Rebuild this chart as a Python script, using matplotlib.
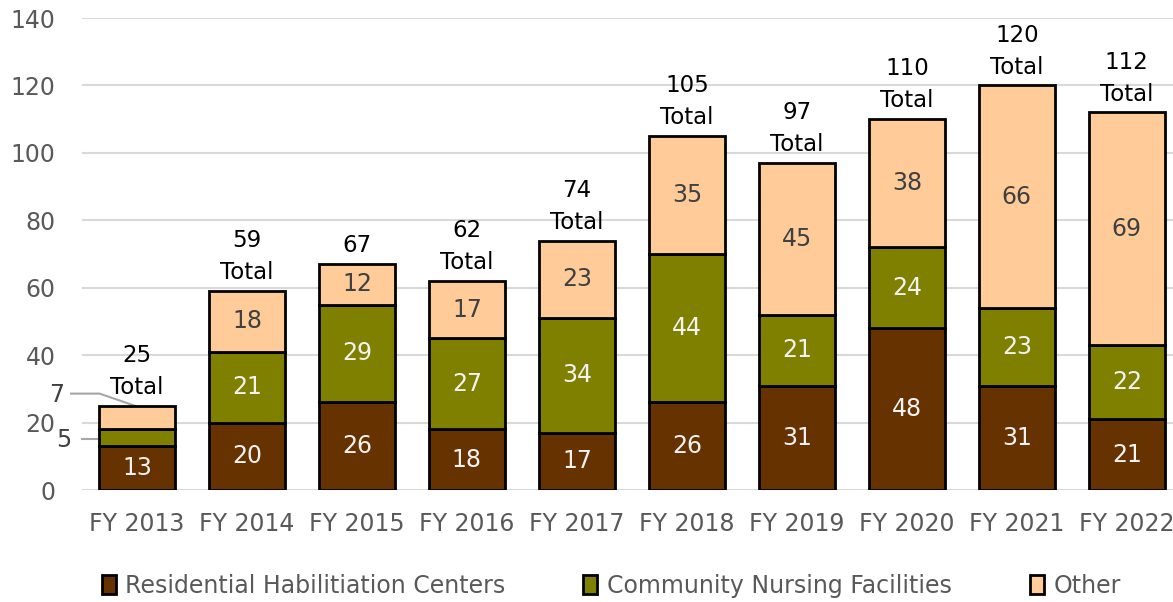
import numpy as np
import matplotlib.pyplot as plt

years = ['FY 2013', 'FY 2014', 'FY 2015', 'FY 2016', 'FY 2017',
         'FY 2018', 'FY 2019', 'FY 2020', 'FY 2021', 'FY 2022']
rhc = [13, 20, 26, 18, 17, 26, 31, 48, 31, 21]
cnf = [5, 21, 29, 27, 34, 44, 21, 24, 23, 22]
other = [7, 18, 12, 17, 23, 35, 45, 38, 66, 69]
totals = [25, 59, 67, 62, 74, 105, 97, 110, 120, 112]
total_text = ['25\nTotal', '59\nTotal', '67', '62\nTotal', '74\nTotal',
              '105\nTotal', '97\nTotal', '110\nTotal', '120\nTotal', '112\nTotal']
yticks = [0, 20, 40, 60, 80, 100, 120, 140]

plt.rcParams['font.family'] = ['DejaVu Sans']

fig = plt.figure(figsize=(11.73, 6.02), dpi=100)
ax = fig.add_axes([0.0699, 0.186, 0.9301, 0.784])

x = np.arange(len(years))
w = 0.69
rhc = np.array(rhc)
cnf = np.array(cnf)
other = np.array(other)

ax.bar(x, rhc, w, color='#663300', edgecolor='black', lw=2, label='Residential Habilitiation Centers', zorder=3)
ax.bar(x, cnf, w, bottom=rhc, color='#808000', edgecolor='black', lw=2, label='Community Nursing Facilities', zorder=3)
ax.bar(x, other, w, bottom=rhc + cnf, color='#ffcc99', edgecolor='black', lw=2, label='Other', zorder=3)

fs = 17
# segment labels
for i in range(len(years)):
    ax.text(x[i], rhc[i] / 2, str(rhc[i]), ha='center', va='center', color='#f2f2f2', fontsize=fs, zorder=4)
    if i > 0:
        ax.text(x[i], rhc[i] + cnf[i] / 2, str(cnf[i]), ha='center', va='center', color='#f2f2f2', fontsize=fs, zorder=4)
        ax.text(x[i], rhc[i] + cnf[i] + other[i] / 2, str(other[i]), ha='center', va='center', color='#404040', fontsize=fs, zorder=4)
    ax.text(x[i], totals[i] + 2.0, total_text[i], ha='center', va='bottom', color='black', fontsize=fs - 0.5, linespacing=1.5, zorder=4)

# FY 2013 small segments labelled outside with leader lines
ax.text(-0.73, 28.2, str(other[0]), ha='center', va='center', color='#404040', fontsize=fs, clip_on=False)
ax.plot([-0.6, -0.34, -0.02], [28.6, 28.6, 25], color='#a6a6a6', lw=1.5, clip_on=False, zorder=2)
ax.text(-0.67, 14.8, str(cnf[0]), ha='center', va='center', color='#404040', fontsize=fs, clip_on=False)
ax.plot([-0.5, -0.35], [15.2, 15.2], color='#a6a6a6', lw=1.5, clip_on=False, zorder=2)

ax.set_xlim(-0.5, 9.42)
ax.set_ylim(0, 140)
ax.set_yticks(yticks)
ax.set_xticks(x)
ax.set_xticklabels(years)
ax.tick_params(axis='both', length=0, labelsize=fs, colors='#595959')
ax.tick_params(axis='y', pad=19)
ax.tick_params(axis='x', pad=16)
ax.grid(axis='y', color='#d9d9d9', lw=1.5, zorder=0)
for s in ax.spines.values():
    s.set_visible(False)

ax.legend(loc='center', bbox_to_anchor=(0.485, -0.203), ncol=3, frameon=False,
          fontsize=fs, labelcolor='#595959', handlelength=0.6, handleheight=0.9,
          handletextpad=0.4, columnspacing=3.3)

fig.savefig('out.png', dpi=100)
